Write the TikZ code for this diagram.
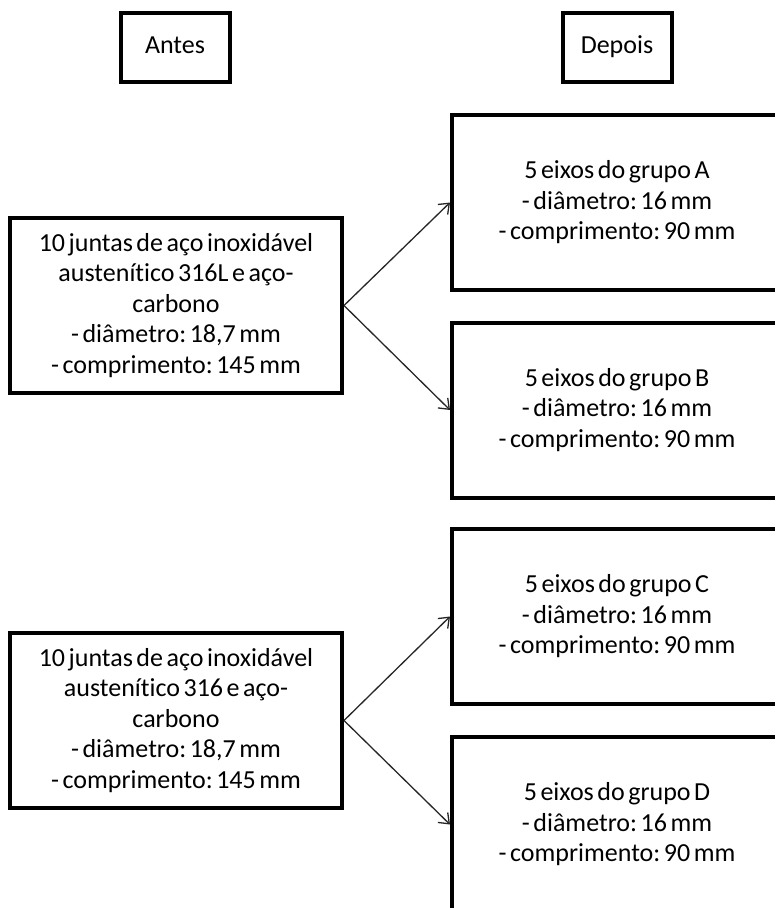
\documentclass[tikz,border=0pt]{standalone}
\usepackage{fontspec}
\setmainfont[WordSpace=0.6,RawFeature=-liga]{Carlito}
\usetikzlibrary{arrows.meta}
\frenchspacing
\tikzset{
  txt/.style={font=\fontsize{26}{30.5}\selectfont, align=center},
  box/.style={draw=black, line width=4pt, rectangle, inner sep=0pt, txt},
  bigbox/.style={box, minimum width=330pt, minimum height=175pt},
  srcbox/.style={box, minimum width=332pt, minimum height=175pt},
  headbox/.style={box, minimum width=109pt, minimum height=69pt},
  conn/.style={draw=black!85, line width=1.3pt, -{Straight Barb[length=9pt,width=14pt,line width=1.3pt]}}
}
\begin{document}
\begin{tikzpicture}[x=1pt,y=-1pt]
\useasboundingbox (0,0) rectangle (775,908);
\fill[white] (0,0) rectangle (775,908);
\begin{scope}
\clip (0,0) rectangle (775,908);
\node[headbox] (antes) at (175,47) {\strut Antes};
\node[headbox] (depois) at (617,47) {\strut Depois};
\node[srcbox] (s1) at (176,305.5) {10 juntas de aço inoxidável\\austenítico 316L e aço-\\carbono\\- diâmetro: 18,7 mm\\- comprimento: 145 mm};
\node[srcbox] (s2) at (176,720.5) {10 juntas de aço inoxidável\\austenítico 316 e aço-\\carbono\\- diâmetro: 18,7 mm\\- comprimento: 145 mm};
\node[bigbox] (a) at (617,202.5) {5 eixos do grupo A\\- diâmetro: 16 mm\\- comprimento: 90 mm};
\node[bigbox] (b) at (617,410) {5 eixos do grupo B\\- diâmetro: 16 mm\\- comprimento: 90 mm};
\node[bigbox] (c) at (617,616.5) {5 eixos do grupo C\\- diâmetro: 16 mm\\- comprimento: 90 mm};
\node[bigbox] (d) at (617,824.5) {5 eixos do grupo D\\- diâmetro: 16 mm\\- comprimento: 90 mm};
\draw[conn] (s1.east) -- (a.west);
\draw[conn] (s1.east) -- (b.west);
\draw[conn] (s2.east) -- (c.west);
\draw[conn] (s2.east) -- (d.west);
\end{scope}
\end{tikzpicture}
\end{document}
